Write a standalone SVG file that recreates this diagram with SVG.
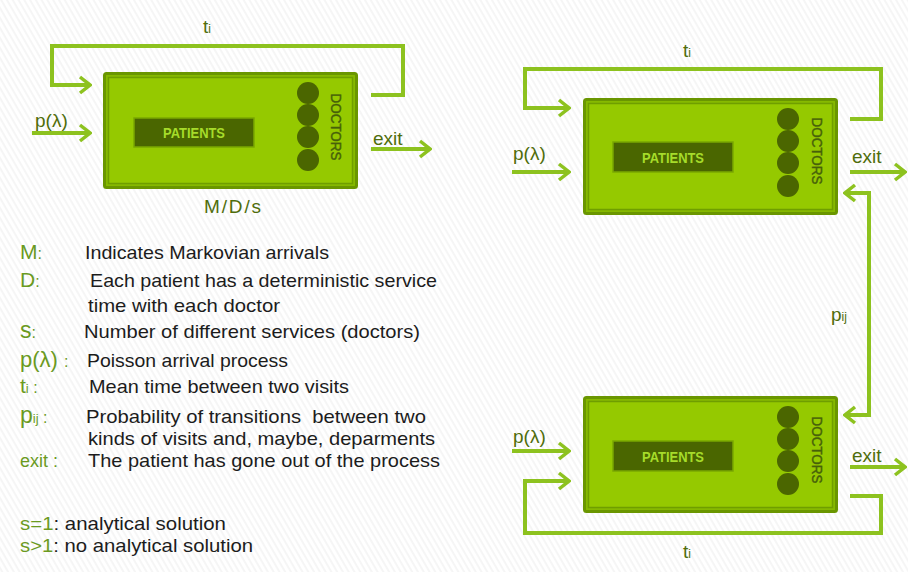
<svg xmlns="http://www.w3.org/2000/svg" width="908" height="572" viewBox="0 0 908 572">
  <defs>
    <pattern id="hatch" width="5" height="10" patternUnits="userSpaceOnUse" patternTransform="rotate(-30)">
      <line x1="1" y1="0" x2="1" y2="10" stroke="#ececec" stroke-width="1"/>
    </pattern>
    <marker id="chev" viewBox="-12 -10 14 20" markerWidth="14" markerHeight="20" refX="0" refY="0" orient="auto-start-reverse" markerUnits="userSpaceOnUse">
      <path d="M-10 -8 L0 0 L-10 8" fill="none" stroke="#8dc21f" stroke-width="3.5" stroke-linejoin="miter"/>
    </marker>
    <g id="station">
      <rect x="1.5" y="1.5" width="252" height="114" rx="2" fill="#86b900" stroke="#6a9600" stroke-width="3"/>
      <rect x="5.5" y="5.5" width="244" height="106" fill="#95c900" stroke="#6f9e00" stroke-width="1.5"/>
      <circle cx="205" cy="21" r="11" fill="#4b6600"/>
      <circle cx="205" cy="43" r="11" fill="#4b6600"/>
      <circle cx="205" cy="65" r="11" fill="#4b6600"/>
      <circle cx="205" cy="88" r="11" fill="#4b6600"/>
    </g>
  </defs>
  <style>
    .wire { fill: none; stroke: #8dc21f; stroke-width: 4; }
    .arr { marker-end: url(#chev); }
    .lbl { font-family: "Liberation Sans", Arial, sans-serif; fill: #4f6d0b; font-size: 19px; }
    .sub { font-size: 12px; }
    .pat { fill: #4a6600; stroke: #7aa800; stroke-width: 1.5; }
    .pattxt { font-family: "Liberation Sans", Arial, sans-serif; font-weight: bold; font-size: 14px; fill: #a6dc2a; text-anchor: middle; }
    .doc { font-family: "Liberation Sans", Arial, sans-serif; font-size: 14px; fill: #46600a; stroke: #46600a; stroke-width: 0.4; text-anchor: middle; }
    .key { font-family: "Liberation Sans", Arial, sans-serif; fill: #6b9a1f; }
    .txt { font-family: "Liberation Sans", Arial, sans-serif; fill: #1c1c1c; font-size: 19px; }
  </style>

  <rect width="908" height="572" fill="#ffffff"/>
  <rect width="908" height="572" fill="url(#hatch)"/>

  <!-- connectors -->
  <g id="connectors">
    <path class="wire arr" d="M371 95 H403 V46 H52 V85 H90"/>
    <path class="wire arr" d="M32 133 H90"/>
    <path class="wire arr" d="M371 149 H430"/>

    <path class="wire arr" d="M850 119 H881 V69 H525 V108 H569"/>
    <path class="wire arr" d="M512 172 H569"/>
    <path class="wire arr" d="M850 172 H905"/>

    <path class="wire arr" d="M850 496 H881 V533 H525 V481 H569"/>
    <path class="wire arr" d="M512 451 H569"/>
    <path class="wire arr" d="M850 467 H905"/>

    <path class="wire" d="M845 193 H869 V415 H845" marker-start="url(#chev)" marker-end="url(#chev)"/>
  </g>

  <!-- station: single queue -->
  <g id="station-single">
    <use href="#station" x="103" y="72"/>
    <rect class="pat" x="134" y="118" width="120" height="29"/>
    <text class="pattxt" x="194" y="138" textLength="62" lengthAdjust="spacingAndGlyphs">PATIENTS</text>
    <text class="doc" transform="translate(331 127) rotate(90)" textLength="67" lengthAdjust="spacingAndGlyphs">DOCTORS</text>
  </g>

  <!-- station: upper network node -->
  <g id="station-top">
    <use href="#station" x="583" y="98"/>
    <rect class="pat" x="613" y="142" width="120" height="30"/>
    <text class="pattxt" x="673" y="163" textLength="62" lengthAdjust="spacingAndGlyphs">PATIENTS</text>
    <text class="doc" transform="translate(812 151) rotate(90)" textLength="67" lengthAdjust="spacingAndGlyphs">DOCTORS</text>
  </g>

  <!-- station: lower network node -->
  <g id="station-bottom">
    <use href="#station" x="583" y="396"/>
    <rect class="pat" x="613" y="441" width="120" height="30"/>
    <text class="pattxt" x="673" y="462" textLength="62" lengthAdjust="spacingAndGlyphs">PATIENTS</text>
    <text class="doc" transform="translate(812 450) rotate(90)" textLength="67" lengthAdjust="spacingAndGlyphs">DOCTORS</text>
  </g>

  <!-- connector labels -->
  <g id="labels">
    <text class="lbl" x="203" y="33">t<tspan class="sub">i</tspan></text>
    <text class="lbl" x="35" y="127">p(λ)</text>
    <text class="lbl" x="373" y="145">exit</text>
    <text class="lbl" x="204" y="213" textLength="57">M/D/s</text>

    <text class="lbl" x="683" y="57">t<tspan class="sub">i</tspan></text>
    <text class="lbl" x="513" y="160">p(λ)</text>
    <text class="lbl" x="852" y="163">exit</text>

    <text class="lbl" x="513" y="443">p(λ)</text>
    <text class="lbl" x="852" y="462">exit</text>
    <text class="lbl" x="683" y="558">t<tspan class="sub">i</tspan></text>

    <text class="lbl" x="831" y="321" font-size="21">p<tspan class="sub">ij</tspan></text>
  </g>

  <!-- legend -->
  <g id="legend">
    <text class="key" x="20" y="259" font-size="21">M<tspan font-size="16">:</tspan></text>
    <text class="txt" x="85" y="259" textLength="244" lengthAdjust="spacingAndGlyphs">Indicates Markovian arrivals</text>

    <text class="key" x="20" y="287" font-size="21">D<tspan font-size="16">:</tspan></text>
    <text class="txt" x="90" y="287" textLength="347" lengthAdjust="spacingAndGlyphs">Each patient has a deterministic service</text>
    <text class="txt" x="88" y="312" textLength="192" lengthAdjust="spacingAndGlyphs">time with each doctor</text>

    <text class="key" x="20" y="338" font-size="23">s<tspan font-size="16">:</tspan></text>
    <text class="txt" x="84" y="338" textLength="336" lengthAdjust="spacingAndGlyphs">Number of different services (doctors)</text>

    <text class="key" x="20" y="367" font-size="22">p(λ) <tspan font-size="16">:</tspan></text>
    <text class="txt" x="87" y="367" textLength="201" lengthAdjust="spacingAndGlyphs">Poisson arrival process</text>

    <text class="key" x="20" y="393" font-size="21">t<tspan font-size="13">i</tspan><tspan font-size="16"> :</tspan></text>
    <text class="txt" x="89" y="393" textLength="260" lengthAdjust="spacingAndGlyphs">Mean time between two visits</text>

    <text class="key" x="20" y="423" font-size="23">p<tspan font-size="13">ij</tspan><tspan font-size="16"> :</tspan></text>
    <text class="txt" x="86" y="423" textLength="340" lengthAdjust="spacingAndGlyphs" xml:space="preserve">Probability of transitions  between two</text>
    <text class="txt" x="88" y="445" textLength="347" lengthAdjust="spacingAndGlyphs">kinds of visits and, maybe, deparments</text>

    <text class="key" x="20" y="467" font-size="18">exit :</text>
    <text class="txt" x="88" y="467" textLength="352" lengthAdjust="spacingAndGlyphs">The patient has gone out of the process</text>

    <text class="txt" x="20" y="530" textLength="206" lengthAdjust="spacingAndGlyphs"><tspan fill="#6b9a1f">s=1</tspan>: analytical solution</text>
    <text class="txt" x="20" y="552" textLength="233" lengthAdjust="spacingAndGlyphs"><tspan fill="#6b9a1f">s&gt;1</tspan>: no analytical solution</text>
  </g>
</svg>
